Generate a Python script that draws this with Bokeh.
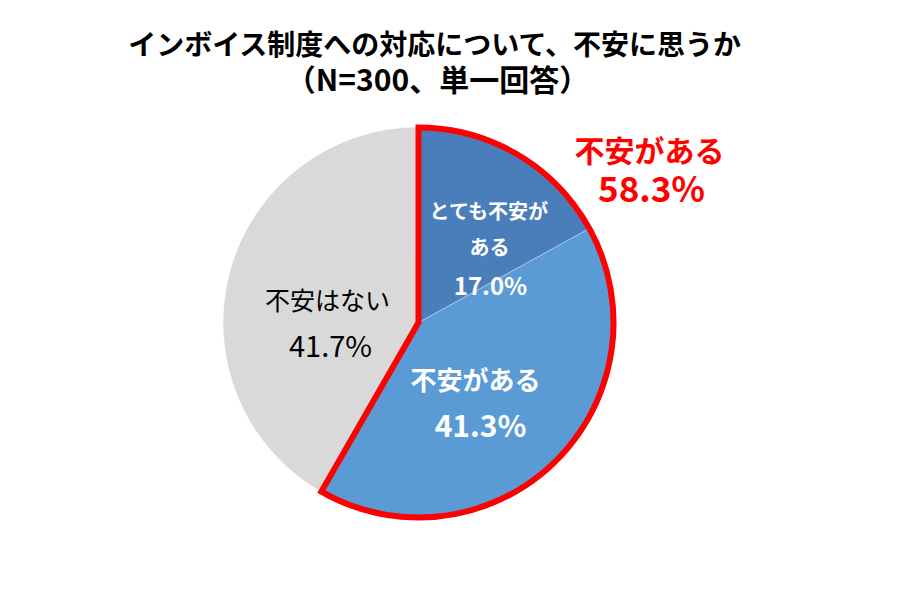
import math
from bokeh.plotting import figure
from bokeh.models import Range1d, ColumnDataSource
from bokeh.core.properties import value
from bokeh.embed import file_html
from bokeh.resources import INLINE

# ---- data ----
categories = ["とても不安がある", "不安がある", "不安はない"]
percents = [17.0, 41.3, 41.7]
colors = ["#4A7EBB", "#5B9BD5", "#D9D9D9"]
title_lines = ["インボイス制度への対応について、不安に思うか", "（N=300、単一回答）"]
group_label = "不安がある"
group_value = percents[0] + percents[1]

W, H = 898, 583
FONT = "Noto Sans CJK JP"

def fy(py):
    return H - py

def fx(px):
    return px

p = figure(width=W, height=H, output_backend="svg", toolbar_location=None,
           x_range=Range1d(0, W), y_range=Range1d(0, H), min_border=0)
p.axis.visible = False
p.grid.visible = False
p.outline_line_color = None
p.background_fill_color = "white"
p.border_fill_color = "white"

cx, cy, r = fx(418), fy(322), 195

# slices
starts, ends = [], []
cum = 0.0
for v in percents:
    starts.append(math.pi / 2 - cum / 100 * 2 * math.pi)
    cum += v
    ends.append(math.pi / 2 - cum / 100 * 2 * math.pi)
src = ColumnDataSource(dict(start=starts, end=ends, color=colors, cat=categories))
p.wedge(x=cx, y=cy, radius=r, start_angle="start", end_angle="end", direction="clock",
        fill_color="color", line_color="color", line_width=0.5, source=src)
# thin separator between the two blue slices
p.wedge(x=cx, y=cy, radius=r, start_angle=starts[0], end_angle=ends[0], direction="clock",
        fill_alpha=0, line_color="#BFD4EA", line_width=0.8)

# red outline around combined "anxious" group
p.wedge(x=cx, y=cy, radius=r, start_angle=math.pi / 2,
        end_angle=math.pi / 2 - group_value / 100 * 2 * math.pi, direction="clock",
        fill_alpha=0, line_color="#FF0000", line_width=6, line_join="miter")

def txt(x, y, s, size, color, bold=True):
    p.text(x=[fx(x)], y=[fy(y)], text=[s], text_font=value(FONT),
           text_font_size=f"{size}px", text_color=color,
           text_font_style="bold" if bold else "normal",
           text_align="center", text_baseline="middle")

# title
txt(435, 42, title_lines[0], 28, "black")
txt(437, 77, title_lines[1], 30, "black")

# slice labels
txt(489, 210, "とても不安が", 20, "white")
txt(489, 246, "ある", 20, "white")
txt(490, 284, f"{percents[0]:.1f}%", 24, "white")

txt(475, 378, categories[1], 26, "white")
txt(480, 423, f"{percents[1]:.1f}%", 30, "white")

txt(327, 298, categories[2], 25, "black", bold=False)
txt(330, 343, f"{percents[2]:.1f}%", 29, "black", bold=False)

# group label
txt(649, 148, group_label, 30, "#FF0000")
txt(651, 186, f"{group_value:.1f}%", 35, "#FF0000")

open("out.html", "w").write(file_html(p, INLINE))
